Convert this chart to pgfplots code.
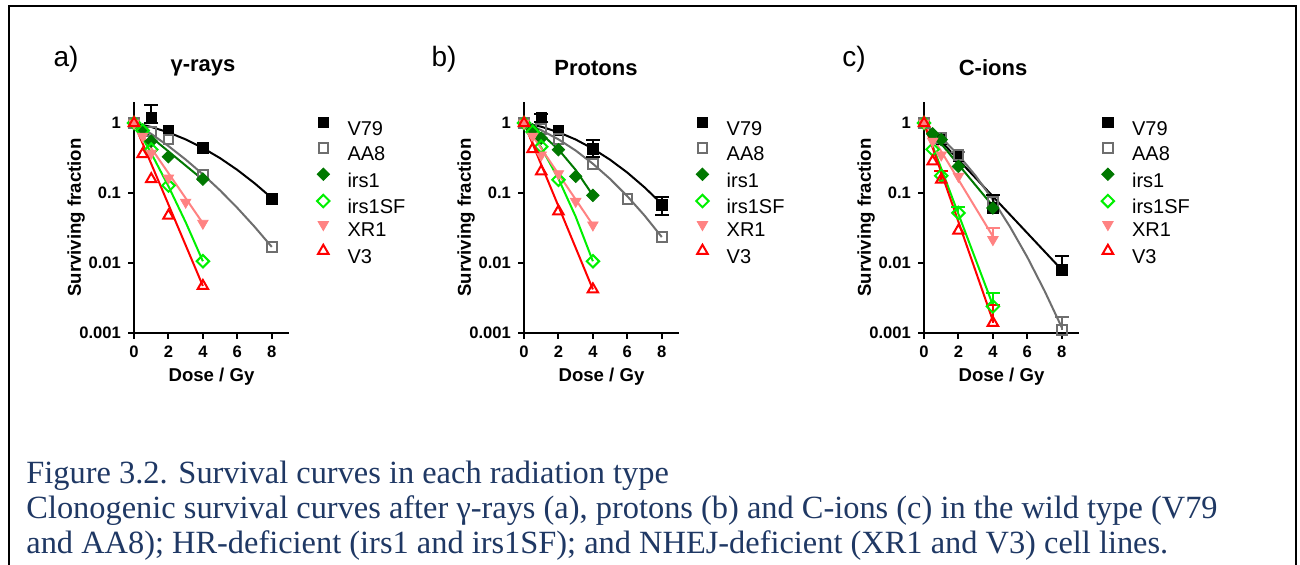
\documentclass[border=0pt]{standalone}
\usepackage{fontspec}
\setmainfont{Liberation Sans}
\newfontfamily\capfont{Liberation Serif}
\usepackage{pgfplots}
\pgfplotsset{compat=1.18}

\definecolor{cV79}{RGB}{0,0,0}
\definecolor{cAA8}{RGB}{110,110,110}
\definecolor{cIRS}{RGB}{0,120,0}
\definecolor{cSF}{RGB}{0,240,0}
\definecolor{cXR}{RGB}{255,130,130}
\definecolor{cV3}{RGB}{255,0,0}
\definecolor{capblue}{RGB}{31,56,100}

\pgfplotsset{
  mypanel/.style={
    scale only axis, width=77.5pt, height=115.5pt,
    xmin=0, xmax=9, ymin=0.001, ymax=2,
    xtick={0,2,4,6,8}, xticklabels={0,2,4,6,8},
    ytick={0.001,0.01,0.1,1}, yticklabels={0.001,0.01,0.1,1},
    yminorticks=false,
    axis x line=bottom, axis y line=left,
    axis line style={-, line width=1pt},
    tick align=outside, major tick length=3pt,
    tick style={line width=1pt, black},
    clip=false,
    tick label style={font=\bfseries\fontsize{8.3}{9}\selectfont},
    label style={font=\bfseries\fontsize{9.3}{11}\selectfont},
    xlabel={Dose / Gy}, ylabel={Surviving fraction},
    xlabel style={at={(axis description cs:0.5,-0.19)}, anchor=center},
    ylabel style={at={(axis description cs:-0.374,0.5)}, anchor=center},
    legend cell align=left,
    legend style={draw=none, fill=none, font=\fontsize{10}{12}\selectfont,
      anchor=north west, row sep=2.4pt,
      nodes={inner sep=0pt},
      /tikz/every odd column/.append style={column sep=9pt}},
    legend image code/.code={\draw plot coordinates {(0pt,3.5pt)};},
  },
  fitline/.style={forget plot, no marks, line width=1pt},
  ebar/.style={forget plot, mark=none, draw=none,
    /pgfplots/error bars/y dir=both,
    /pgfplots/error bars/y explicit,
    /pgfplots/error bars/error bar style={draw=#1, line width=1pt},
    /pgfplots/error bars/error mark options={draw=#1, rotate=90, mark size=3.5pt, line width=1pt}},
  ebarup/.style={ebar=#1, /pgfplots/error bars/y dir=plus},
  sV79/.style={only marks, mark=square*, mark size=2.6pt, cV79},
  sAA8/.style={only marks, mark=square, mark size=2.4pt, cAA8,
    mark options={line width=1pt, fill=white}},
  sIRS/.style={only marks, mark=square*, mark size=2.2pt, cIRS,
    mark options={rotate=45}},
  sSF/.style={only marks, mark=square, mark size=2.2pt, cSF,
    mark options={rotate=45, line width=1pt, fill=white}},
  sXR/.style={only marks, mark=triangle*, mark size=3pt, cXR,
    mark options={rotate=180}},
  sV3/.style={only marks, mark=triangle, mark size=3pt, cV3,
    mark options={line width=1pt, fill=white}},
}

\begin{document}
\begin{tikzpicture}
\begin{scope}[x=0.5pt,y=-0.5pt]
\useasboundingbox (0,0) rectangle (1300,565);
\fill[white] (0,0) rectangle (1300,565);
\draw[line width=1pt] (9,600) -- (9,6) -- (1296,6) -- (1296,600);
\node[font=\fontsize{14}{16}\selectfont] at (66,59) {a)};
\node[font=\bfseries\fontsize{11}{13}\selectfont] at (203,68) {γ-rays};
\node[font=\fontsize{14}{16}\selectfont] at (444,59) {b)};
\node[font=\bfseries\fontsize{11}{13}\selectfont] at (596,68) {Protons};
\node[font=\fontsize{14}{16}\selectfont] at (854,59) {c)};
\node[font=\bfseries\fontsize{11}{13}\selectfont] at (993,68) {C-ions};
\node[anchor=base west, inner sep=0pt, text=capblue,
  font=\capfont\fontsize{16.2}{17.5}\selectfont, align=left] at (26,554)
  {Figure 3.2. Survival curves in each radiation type\\
   Clonogenic survival curves after γ-rays (a), protons (b) and C-ions (c) in the wild type (V79\\
   and AA8); HR-deficient (irs1 and irs1SF); and NHEJ-deficient (XR1 and V3) cell lines.};
\end{scope}

% ---------------- a) gamma-rays
\begin{axis}[ymode=log, mypanel, at={(67pt,-166.5pt)}, anchor=south west,
  legend style={at={(axis description cs:1.14,0.952)}}]
\addplot[fitline, cV79] coordinates {(0,1)(1,0.880)(2,0.736)(3,0.584)(4,0.44)(5,0.315)(6,0.214)(7,0.138)(8,0.085)};
\addplot[fitline, cAA8] coordinates {(0,1)(1,0.700)(2,0.469)(3,0.301)(4,0.185)(5,0.109)(6,0.0613)(7,0.033)(8,0.017)};
\addplot[fitline, cIRS] coordinates {(0,1)(4,0.155)};
\addplot[fitline, cSF] coordinates {(0,1)(1,0.371)(2,0.125)(3,0.0383)(4,0.0106)};
\addplot[fitline, cXR] coordinates {(0,1)(4,0.037)};
\addplot[fitline, cV3] coordinates {(0,1)(4,0.0047)};
\addplot[ebar=cV79] coordinates {(1,1.2) += (0,0.59) -= (0,0.2)};
\addplot[sV79] coordinates {(0,1)(1,1.2)(2,0.785)(4,0.44)(8,0.082)};
\addlegendentry{V79}
\addplot[sAA8] coordinates {(0,1)(1,0.76)(2,0.58)(4,0.18)(8,0.017)};
\addlegendentry{AA8}
\addplot[sIRS] coordinates {(0,1)(0.5,0.8)(1,0.55)(2,0.33)(4,0.158)};
\addlegendentry{irs1}
\addplot[sSF] coordinates {(0,1)(0.5,0.78)(1,0.42)(2,0.128)(4,0.0106)};
\addlegendentry{irs1SF}
\addplot[sXR] coordinates {(0,1)(0.5,0.65)(1,0.37)(2,0.164)(3,0.074)(4,0.037)};
\addlegendentry{XR1}
\addplot[sV3] coordinates {(0,1)(0.5,0.36)(1,0.158)(2,0.0475)(4,0.0047)};
\addlegendentry{V3}
\end{axis}

% ---------------- b) protons
\begin{axis}[ymode=log, mypanel, at={(262pt,-166.5pt)}, anchor=south west,
  legend style={at={(axis description cs:1.07,0.952)}}]
\addplot[fitline, cV79] coordinates {(0,1)(1,0.887)(2,0.740)(3,0.582)(4,0.43)(5,0.299)(6,0.196)(7,0.1205)(8,0.070)};
\addplot[fitline, cAA8] coordinates {(0,1)(1,0.791)(2,0.585)(3,0.405)(4,0.262)(5,0.159)(6,0.090)(7,0.0477)(8,0.0235)};
\addplot[fitline, cIRS] coordinates {(0,1)(1,0.702)(2,0.42)(3,0.214)(4,0.0926)};
\addplot[fitline, cSF] coordinates {(0,1)(1,0.448)(2,0.16)(3,0.046)(4,0.0106)};
\addplot[fitline, cXR] coordinates {(0,1)(4,0.035)};
\addplot[fitline, cV3] coordinates {(0,1)(4,0.0042)};
\addplot[ebar=cV79] coordinates {(1,1.18) += (0,0.15) -= (0,0.15) (4,0.43) += (0,0.135) -= (0,0.1) (8,0.068) += (0,0.021) -= (0,0.019)};
\addplot[sV79] coordinates {(0,1)(1,1.18)(2,0.785)(4,0.43)(8,0.068)};
\addlegendentry{V79}
\addplot[sAA8] coordinates {(0,1)(1,0.82)(2,0.59)(4,0.262)(6,0.082)(8,0.0235)};
\addlegendentry{AA8}
\addplot[sIRS] coordinates {(0,1)(0.5,0.8)(1,0.61)(2,0.416)(3,0.173)(4,0.0926)};
\addlegendentry{irs1}
\addplot[sSF] coordinates {(0,1)(0.5,0.75)(1,0.46)(2,0.155)(4,0.0106)};
\addlegendentry{irs1SF}
\addplot[sXR] coordinates {(0,1)(0.5,0.65)(1,0.35)(2,0.189)(3,0.076)(4,0.035)};
\addlegendentry{XR1}
\addplot[sV3] coordinates {(0,1)(0.5,0.425)(1,0.204)(2,0.0547)(4,0.0042)};
\addlegendentry{V3}
\end{axis}

% ---------------- c) C-ions
\begin{axis}[ymode=log, mypanel, at={(462pt,-166.5pt)}, anchor=south west,
  legend style={at={(axis description cs:1.105,0.952)}}]
\addplot[fitline, cV79] coordinates {(0,1)(8,0.008)};
\addplot[fitline, cAA8] coordinates {(0,1)(1,0.622)(2,0.348)(3,0.176)(4,0.08)(5,0.0327)(6,0.0121)(7,0.0040)(8,0.0012)};
\addplot[fitline, cIRS] coordinates {(0,1)(4,0.065)};
\addplot[fitline, cSF] coordinates {(0,1)(4,0.0025)};
\addplot[fitline, cXR] coordinates {(0,1)(4,0.024)};
\addplot[fitline, cV3] coordinates {(0,1)(4,0.0015)};
\addplot[ebarup=cV79] coordinates {(4,0.061) +- (0,0.033) (8,0.008) +- (0,0.0045)};
\addplot[ebarup=cAA8] coordinates {(2,0.35) +- (0,0.04) (8,0.0011) +- (0,0.0006)};
\addplot[ebarup=cSF] coordinates {(2,0.052) +- (0,0.012) (4,0.0024) +- (0,0.0013)};
\addplot[ebarup=cXR] coordinates {(4,0.0216) +- (0,0.01)};
\addplot[ebarup=cV3] coordinates {(1,0.155) +- (0,0.05) (4,0.0014) +- (0,0.0011)};
\addplot[sV79] coordinates {(0,1)(1,0.59)(2,0.334)(4,0.061)(8,0.008)};
\addlegendentry{V79}
\addplot[sAA8] coordinates {(0,1)(1,0.61)(2,0.35)(4,0.076)(8,0.0011)};
\addlegendentry{AA8}
\addplot[sIRS] coordinates {(0,1)(0.5,0.7)(1,0.58)(2,0.24)(4,0.061)};
\addlegendentry{irs1}
\addplot[sSF] coordinates {(0,1)(0.5,0.42)(1,0.177)(2,0.052)(4,0.0024)};
\addlegendentry{irs1SF}
\addplot[sXR] coordinates {(0,1)(0.5,0.55)(1,0.35)(2,0.173)(4,0.0216)};
\addlegendentry{XR1}
\addplot[sV3] coordinates {(0,1)(0.5,0.283)(1,0.155)(2,0.029)(4,0.0014)};
\addlegendentry{V3}
\end{axis}
\end{tikzpicture}
\end{document}
